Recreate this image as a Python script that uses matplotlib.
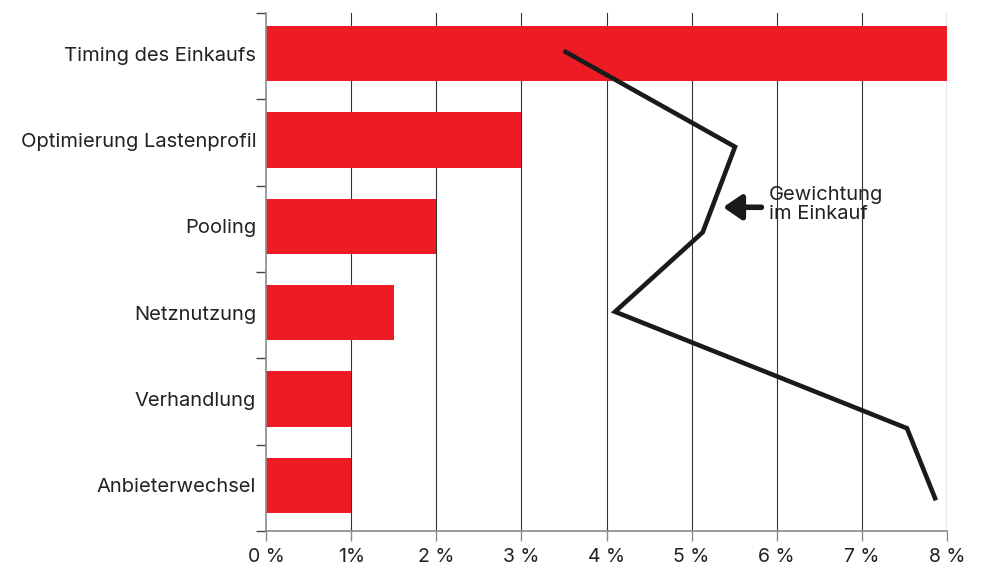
import matplotlib
matplotlib.use("Agg")
import matplotlib.pyplot as plt
from matplotlib.ticker import FuncFormatter

plt.rcParams['font.family'] = ['Inter', 'DejaVu Sans']

categories = ["Timing des Einkaufs", "Optimierung Lastenprofil", "Pooling",
              "Netznutzung", "Verhandlung", "Anbieterwechsel"]
potential = [8.0, 3.0, 2.0, 1.5, 1.0, 1.0]   # % bars

# weighting line (x in %, y in category units)
weight_x = [3.52, 5.51, 5.13, 4.10, 7.53, 7.86]
weight_y = [-0.05, 1.05, 2.04, 2.96, 4.31, 5.12]

red = "#ED1C24"
grey = "#8a8a8a"
txt = "#222222"

fig = plt.figure(figsize=(9.81, 5.67), dpi=100)
ax = fig.add_axes([0.2712, 0.0635, 0.6941, 0.9135])

ypos = list(range(len(categories)))
ax.barh([p - 0.03 for p in ypos], potential, height=0.64, color=red, zorder=2)

# vertical grid
for v in range(1, 8):
    ax.axvline(v, color="#333333", lw=0.8, zorder=1)
ax.axvline(8, color=grey, lw=1.0, zorder=1)

ax.plot(weight_x, weight_y, color="#1a1a1a", lw=3.3, solid_joinstyle="miter", zorder=3)

ax.annotate("", xy=(5.37, 1.75), xytext=(5.82, 1.75),
            arrowprops=dict(arrowstyle="-|>,head_length=1.1,head_width=0.75",
                            color="#1a1a1a", lw=4, shrinkA=0, shrinkB=0), zorder=4)
ax.text(5.91, 1.72, "Gewichtung\nim Einkauf", ha="left", va="center",
        fontsize=14.5, color=txt, linespacing=1.1, zorder=4)

ax.set_xlim(0, 8)
ax.set_ylim(5.5, -0.5)

# y axis: ticks at boundaries, labels at centres
ax.set_yticks([i - 0.5 for i in range(len(categories) + 1)])
ax.set_yticklabels([])
ax.set_yticks([p - 0.03 for p in ypos], minor=True)
ax.set_yticklabels(categories, minor=True, fontsize=14.5, color=txt)
ax.tick_params(axis="y", which="major", length=7, width=1, color="#444444", direction="out")
ax.tick_params(axis="y", which="minor", length=0, pad=7)

ax.set_xticks(range(0, 9))
ax.xaxis.set_major_formatter(FuncFormatter(lambda v, p: "%d %%" % v if v != 1 else "1%"))
ax.tick_params(axis="x", length=7, width=1, color=grey, labelsize=14, labelcolor=txt, pad=5)

for s in ["top", "right"]:
    ax.spines[s].set_visible(False)
for s in ["left", "bottom"]:
    ax.spines[s].set_color(grey)
    ax.spines[s].set_linewidth(1.2)

fig.savefig("out.png", dpi=100)
